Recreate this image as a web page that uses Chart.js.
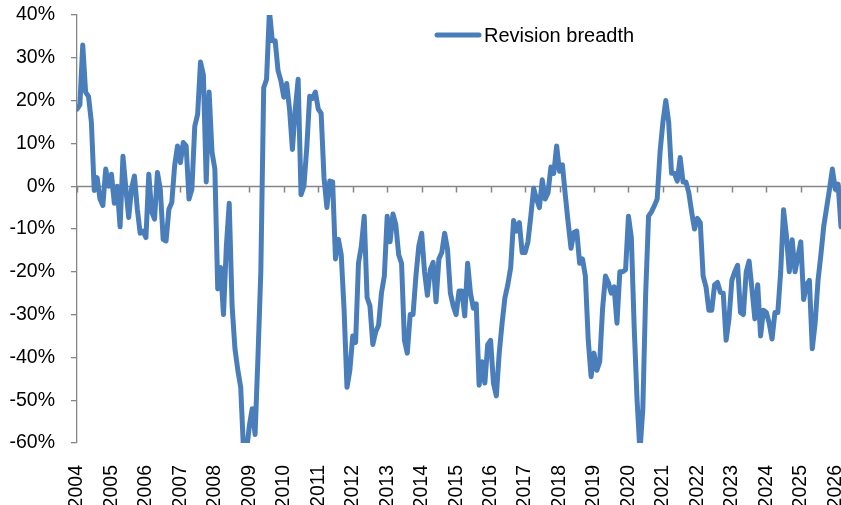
<!DOCTYPE html>
<html>
<head>
<meta charset="utf-8">
<script src="https://cdn.jsdelivr.net/npm/chart.js@4/dist/chart.umd.min.js"></script>
<style>
  html, body { margin: 0; padding: 0; background: #fff; }
  #wrap { width: 841px; height: 505px; }
</style>
</head>
<body>
<div id="wrap"><canvas id="breadthChart"></canvas></div>
<script>
// monthly readings, Jan 2004 onwards
const startYear = 2004;
const yearTicks = [2004, 2005, 2006, 2007, 2008, 2009, 2010, 2011, 2012, 2013, 2014, 2015,
                   2016, 2017, 2018, 2019, 2020, 2021, 2022, 2023, 2024, 2025, 2026];
const pctTicks = [-60, -50, -40, -30, -20, -10, 0, 10, 20, 30, 40];
const seriesName = 'Revision breadth';
const breadth = [
  // 2004
  18, 19, 33, 22, 21, 15, -1, 2, -3, -4.5, 4, 0,
  // 2005
  2.8, -4, 0, -9.5, 7, -0.5, -7.3, -0.5, 2.4, -5.4, -11, -10.5,
  // 2006
  -12, 2.8, -6, -7.7, 3.2, -0.7, -12.4, -12.8, -5.4, -3.8, 4.8, 9.4,
  // 2007
  5.5, 10.2, 9.4, -3, -0.7, 14, 16.8, 29, 26, 1, 22, 8,
  // 2008
  4, -24, -19, -30, -14, -4, -28, -38, -43, -47, -62, -62,
  // 2009
  -56, -52, -58, -40, -20, 23, 25, 41, 34, 34, 27, 24.6,
  // 2010
  20.8, 24, 18, 8.6, 18, 25, -2, 0, 9, 21, 20.5, 22,
  // 2011
  18, 17, 2, -5, 1.2, 1, -17, -12.4, -16, -29, -47, -43,
  // 2012
  -35, -36.5, -18, -14, -7, -26, -28, -37, -34, -32.5, -25, -21,
  // 2013
  -7, -13, -6.5, -9, -16, -18, -36, -39, -30, -30, -21, -14,
  // 2014
  -11, -20, -25.5, -19.5, -17.8, -27, -17, -15.5, -11, -14.7, -25, -28,
  // 2015
  -30, -24.5, -24.5, -30.3, -18, -25, -28.5, -27.5, -46.5, -41, -46, -37,
  // 2016
  -36, -46, -49, -39, -32, -26, -23, -19, -8, -10.5, -8.5, -15.5,
  // 2017
  -15.5, -13, -7, -0.5, -3, -5, 1.5, -3, -1.5, 4.5, 3, 9.4,
  // 2018
  3.5, 5, -2, -8.5, -14.5, -10.8, -10.5, -18, -17, -21, -36, -44.5,
  // 2019
  -39, -43, -41, -28.5, -21, -22.5, -25, -23.5, -32, -20, -20, -19.5,
  // 2020
  -7, -12, -33, -50, -62, -52, -25, -7, -6, -4.6, -3, 8,
  // 2021
  15, 20, 15, 3, 3, 1.2, 6.7, 1, 1, -1.5, -6, -10,
  // 2022
  -7.5, -8.5, -21, -23.5, -29, -29, -23, -22.5, -24.8, -25, -36, -31,
  // 2023
  -22, -20, -18.5, -29.5, -30, -20, -17.5, -24, -31, -23, -35, -29,
  // 2024
  -29.5, -32, -35.7, -29.5, -29.5, -20, -5.5, -11.6, -20, -12.5, -20, -16.5,
  // 2025
  -13, -26.5, -23, -22, -38, -32, -22, -16, -9.3, -5, -0.7, 4,
  // 2026
  -0.7, 0.5, -9.5
];

const lineBlue = '#4a7ebb';
const axisGrey = '#868686';
const tickFont = { family: 'Liberation Sans', size: 19.5 };

// horizontal axis line through 0% with the year tick marks hanging below it
const zeroAxis = {
  id: 'zeroAxis',
  beforeDatasetsDraw(chart) {
    const { ctx, chartArea, scales: { x, y } } = chart;
    const y0 = Math.round(y.getPixelForValue(0)) + 0.5;
    ctx.save();
    ctx.strokeStyle = axisGrey;
    ctx.lineWidth = 1.5;
    ctx.beginPath();
    ctx.moveTo(chartArea.left, y0);
    ctx.lineTo(chartArea.right, y0);
    x.ticks.forEach(t => {
      const px = Math.round(x.getPixelForValue(t.value)) + 0.5;
      ctx.moveTo(px, y0);
      ctx.lineTo(px, y0 + 6);
    });
    ctx.stroke();
    ctx.restore();
  }
};

// legend sits inside the plot, right of centre
const inlineLegend = {
  id: 'inlineLegend',
  afterDraw(chart) {
    const ds = chart.data.datasets[0];
    const ctx = chart.ctx;
    ctx.save();
    ctx.strokeStyle = ds.borderColor;
    ctx.lineWidth = ds.borderWidth;
    ctx.lineCap = 'round';
    ctx.beginPath();
    ctx.moveTo(437, 35);
    ctx.lineTo(479, 35);
    ctx.stroke();
    ctx.fillStyle = '#000';
    ctx.font = '20px "Liberation Sans"';
    ctx.textBaseline = 'middle';
    ctx.fillText(ds.label, 484, 36);
    ctx.restore();
  }
};

const ctx = document.getElementById('breadthChart').getContext('2d');
new Chart(ctx, {
  type: 'line',
  data: {
    datasets: [{
      label: seriesName,
      data: breadth.map((v, i) => ({ x: startYear + i / 12, y: v })),
      borderColor: lineBlue,
      backgroundColor: lineBlue,
      borderWidth: 5,
      borderJoinStyle: 'round',
      borderCapStyle: 'round',
      pointRadius: 0,
      tension: 0,
      clip: 0
    }]
  },
  options: {
    responsive: true,
    maintainAspectRatio: false,
    animation: false,
    layout: { padding: { top: 15, right: 0, bottom: 0, left: 0 } },
    plugins: {
      legend: { display: false },
      tooltip: { enabled: false }
    },
    scales: {
      x: {
        type: 'linear',
        min: startYear,
        max: startYear + (breadth.length - 1) / 12,
        afterBuildTicks: s => { s.ticks = yearTicks.map(v => ({ value: v })); },
        afterFit: s => { s.height = 62; s.paddingLeft = 0; s.paddingRight = 0; },
        grid: { display: false },
        border: { display: false },
        ticks: {
          autoSkip: false,
          minRotation: 90,
          maxRotation: 90,
          padding: 14,
          color: '#000',
          font: tickFont,
          callback: v => String(v)
        }
      },
      y: {
        min: -60,
        max: 40,
        afterBuildTicks: s => { s.ticks = pctTicks.map(v => ({ value: v })); },
        afterFit: s => { s.width = 77; s.paddingTop = 0; s.paddingBottom = 0; },
        grid: {
          drawOnChartArea: false,
          drawTicks: true,
          tickLength: 6,
          color: axisGrey,
          lineWidth: 1.3
        },
        border: { display: true, color: axisGrey, width: 1.3 },
        ticks: {
          padding: 16,
          color: '#000',
          font: tickFont,
          callback: v => v + '%'
        }
      }
    }
  },
  plugins: [zeroAxis, inlineLegend]
});
</script>
</body>
</html>
